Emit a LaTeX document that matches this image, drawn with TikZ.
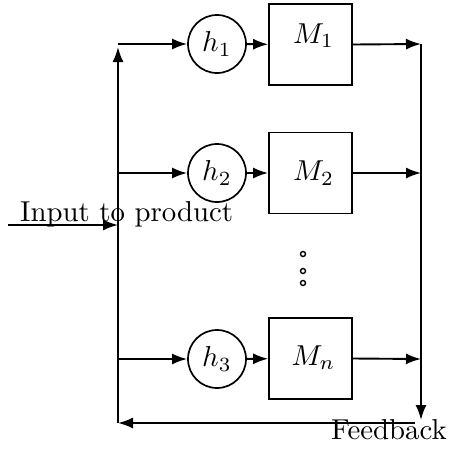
\documentclass[tikz,border=0pt]{standalone}
\usepackage{fontspec}
\usepackage{graphicx}
\usetikzlibrary{arrows.meta}
% text set at 10pt and enlarged, so strokes keep their weight
\newcommand\sizedtext[1]{\scalebox{2.88}{#1}}
\begin{document}
\begin{tikzpicture}[x=1pt,y=-1pt,
  every node/.style={font=\fontsize{10}{12}\selectfont},
  wire/.style={line width=1.9pt},
  flow/.style={wire,-{Latex[length=15pt,width=11pt]}},
  gain/.style={draw,circle,line width=1.7pt,inner sep=0pt,minimum size=58pt},
  machine/.style={draw,rectangle,line width=1.7pt,inner sep=0pt,minimum width=83pt,minimum height=81pt},
  dot/.style={draw,circle,line width=1.4pt,inner sep=0pt,minimum size=5pt}]
\useasboundingbox (0,0) rectangle (450,448);

% branch blocks
\node[gain] (h1) at (217,44) {\sizedtext{$h_1$}};
\node[gain] (h2) at (217,173) {\sizedtext{$h_2$}};
\node[gain] (h3) at (217,359) {\sizedtext{$h_3$}};
\node[machine] (m1) at (310.5,44.5) {};
\node[machine] (m2) at (310.5,173) {};
\node[machine] (m3) at (310.5,358.5) {};
\node (t1) at ([xshift=3pt,yshift=9pt]m1.center) {\sizedtext{$M_1$}};
\node (t2) at ([xshift=3pt]m2.center) {\sizedtext{$M_2$}};
\node (t3) at ([xshift=3pt,yshift=1pt]m3.center) {\sizedtext{$M_n$}};

% vertical ellipsis
\node[dot] (d1) at (303,254) {};
\node[dot] (d2) at (303,271) {};
\node[dot] (d3) at (303,283) {};

% bus corners and taps
\coordinate (lt) at (118,44);
\coordinate (ltop) at (118,47);
\coordinate (l2) at (118,173);
\coordinate (l3) at (118,359);
\coordinate (lin) at (118,225);
\coordinate (lb) at (118,423);
\coordinate (r1) at (421,44);
\coordinate (r2) at (421,173);
\coordinate (r3) at (421,359);
\coordinate (rend) at (421,420);
\coordinate (fbs) at (415,423);
\coordinate (in) at (8,225);

% input
\draw[flow] (in) -- (lin);
\node[anchor=base west,inner sep=0pt] (inlabel) at (20,221) {\sizedtext{Input to product}};

% left bus
\draw[flow] (lb) -- (ltop);
\draw[flow] (lt) -- (h1);
\draw[flow] (l2) -- (h2);
\draw[flow] (l3) -- (h3);

% gain to machine
\draw[flow] (h1) -- (m1);
\draw[flow] (h2) -- (m2);
\draw[flow] (h3) -- (m3);

% outputs to right bus
\draw[flow] (m1.east) -- (r1);
\draw[flow] (m2.east) -- (r2);
\draw[flow] (m3.east) -- (r3);
\draw[flow] (r1) -- (rend);

% feedback
\draw[flow] (fbs) -- (lb);
\node[anchor=base west,inner sep=0pt] (fblabel) at (331,439) {\sizedtext{Feedback}};
\end{tikzpicture}
\end{document}
